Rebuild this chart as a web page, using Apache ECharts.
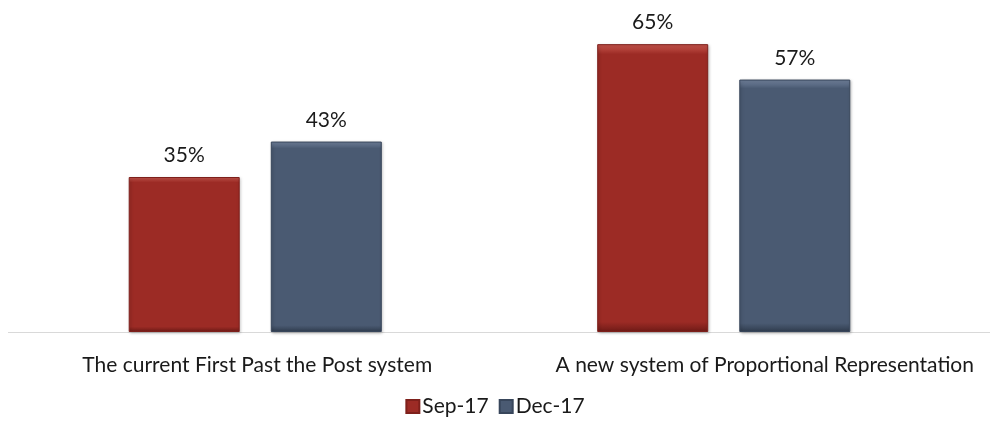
<!DOCTYPE html>
<html>
<head>
<meta charset="utf-8">
<style>
  html, body { margin: 0; padding: 0; background: #fff; }
  #chart { width: 990px; height: 430px; }
</style>
<script src="https://cdn.jsdelivr.net/npm/echarts@6/dist/echarts.min.js"></script>
</head>
<body>
<div id="chart"></div>
<script>
// Preferred electoral system, two survey waves
const categories = ['The current First Past the Post system', 'A new system of Proportional Representation'];
const seriesNames = ['Sep-17', 'Dec-17'];
const sep17 = [35, 65];
const dec17 = [43, 57];

const FONT = 'Lato, "Open Sans", sans-serif';
const FS = 21;
const chart = echarts.init(document.getElementById('chart'));

// vertical gradient giving the bars a soft bevelled edge
function bevel(base, light, dark) {
  return {
    type: 'linear', x: 0, y: 0, x2: 0, y2: 1,
    colorStops: [
      { offset: 0, color: light },
      { offset: 0.035, color: base },
      { offset: 0.965, color: base },
      { offset: 1, color: dark }
    ]
  };
}

const labelStyle = { fontSize: FS, color: '#1a1a1a', fontFamily: FONT };

chart.setOption({
  animation: false,
  textStyle: { fontFamily: FONT },
  grid: { left: 21, right: 32, top: 22, bottom: 98, containLabel: false },
  legend: {
    bottom: 8,
    left: 'center',
    itemWidth: 13,
    itemHeight: 13,
    itemGap: 10,
    icon: 'rect',
    textStyle: Object.assign({}, labelStyle, { padding: [0, 0, 0, -2] }),
    data: seriesNames
  },
  xAxis: {
    type: 'category',
    data: categories,
    axisLine: { show: false },
    axisTick: { show: false },
    axisLabel: {
      interval: 0,
      hideOverlap: false,
      margin: 23,
      fontSize: FS,
      color: '#1a1a1a',
      formatter: (v, i) => (i === 0 ? '{a|' + v + '}' : '{b|' + v + '}'),
      rich: {
        a: Object.assign({}, labelStyle, { padding: [0, 0, 0, 4] }),
        b: Object.assign({}, labelStyle, { padding: [0, 0, 0, 82] })
      }
    }
  },
  yAxis: {
    type: 'value', min: 0, max: 70,
    show: false,
    splitLine: { show: false }
  },
  graphic: [{
    type: 'line',
    shape: { x1: 8, y1: 332.5, x2: 990, y2: 332.5 },
    style: { stroke: '#d9d9d9', lineWidth: 1 },
    z: 1
  }],
  series: [
    {
      name: seriesNames[0], type: 'bar', data: sep17,
      barWidth: 111, barGap: '28%',
      itemStyle: {
        color: bevel('#9C2B25', '#C9574E', '#6E1A16'),
        borderColor: '#7E201B', borderWidth: 1,
        shadowColor: 'rgba(0,0,0,0.25)', shadowBlur: 3, shadowOffsetX: 1, shadowOffsetY: 1
      },
      label: Object.assign({ show: true, position: 'top', distance: 11, formatter: '{c}%' }, labelStyle),
      z: 3
    },
    {
      name: seriesNames[1], type: 'bar', data: dec17,
      barWidth: 111,
      itemStyle: {
        color: bevel('#4A5A72', '#7485A0', '#2F3B4D'),
        borderColor: '#38465B', borderWidth: 1,
        shadowColor: 'rgba(0,0,0,0.25)', shadowBlur: 3, shadowOffsetX: 1, shadowOffsetY: 1
      },
      label: Object.assign({ show: true, position: 'top', distance: 11, formatter: '{c}%' }, labelStyle),
      z: 3
    }
  ]
});
</script>
</body>
</html>
